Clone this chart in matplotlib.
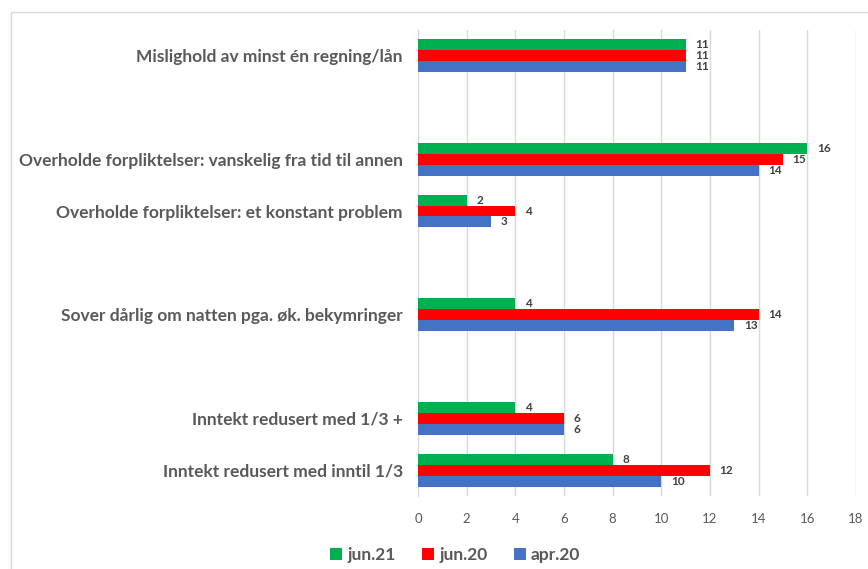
import matplotlib.pyplot as plt
import numpy as np
from matplotlib.patches import Rectangle

# categories top to bottom, empty strings are spacer slots
categories = ["Mislighold av minst én regning/lån", "",
              "Overholde forpliktelser: vanskelig fra tid til annen",
              "Overholde forpliktelser: et konstant problem", "",
              "Sover dårlig om natten pga. øk. bekymringer", "",
              "Inntekt redusert med 1/3 +",
              "Inntekt redusert med inntil 1/3"]
jun21 = [11, None, 16, 2, None, 4, None, 4, 8]
jun20 = [11, None, 15, 4, None, 14, None, 6, 12]
apr20 = [11, None, 14, 3, None, 13, None, 6, 10]
series_names = ["jun.21", "jun.20", "apr.20"]
colors = ["#00B050", "#FF0000", "#4472C4"]


def main():
    plt.rcParams['font.family'] = ['Lato', 'DejaVu Sans']
    fig = plt.figure(figsize=(8.68, 5.69), dpi=100)
    ax = fig.add_axes([0.4816, 0.128, 0.986 - 0.4816, 0.948 - 0.128])

    n = len(categories)
    y = np.arange(n)
    h = 0.21
    offsets = [-h, 0, h]
    for vals, off, col, name in zip([jun21, jun20, apr20], offsets, colors, series_names):
        idx = [i for i, v in enumerate(vals) if v is not None]
        v = [vals[i] for i in idx]
        ax.barh(y[idx] + off, v, height=h, color=col, label=name, zorder=3)
        for i, val in zip(idx, v):
            ax.text(val + 0.4, i + off, str(val), va='center', ha='left',
                    fontsize=8.5, fontweight='bold', color='#404040')

    ax.set_ylim(n - 0.5, -0.5)
    ax.set_xlim(0, 18)
    ax.set_xticks(np.arange(0, 19, 2))
    ax.set_yticks(y)
    ax.set_yticklabels(categories, fontsize=12.5, fontweight='bold', color='#595959')
    ax.tick_params(axis='both', length=0)
    ax.tick_params(axis='x', labelsize=9.5, labelcolor='#595959', pad=12)
    ax.tick_params(axis='y', pad=11)
    ax.grid(axis='x', color='#D9D9D9', linewidth=1, zorder=0)
    for s in ['top', 'right', 'bottom']:
        ax.spines[s].set_visible(False)
    ax.spines['left'].set_color('#D9D9D9')

    leg = ax.legend(loc='upper center', bbox_to_anchor=(0.085, -0.075),
                    ncol=3, frameon=False, handlelength=0.7, handleheight=0.7,
                    handletextpad=0.3, columnspacing=1.5,
                    prop={'size': 12.5, 'weight': 'bold'})
    for t in leg.get_texts():
        t.set_color('#595959')

    fig.patches.append(Rectangle((11 / 868, -0.1), 1.2, 1 - 12 / 569 + 0.1,
                                 transform=fig.transFigure, fill=False,
                                 edgecolor='#D9D9D9', linewidth=1))

    fig.savefig("out.png", dpi=100)


if __name__ == "__main__":
    main()
